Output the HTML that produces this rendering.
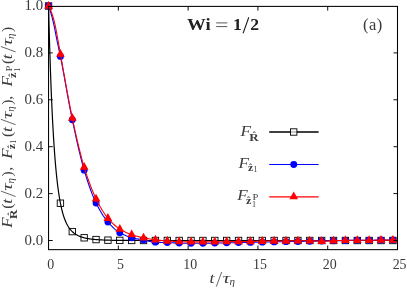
<!DOCTYPE html>
<html><head><meta charset="utf-8"><style>
html,body{margin:0;padding:0;background:#fff;}
svg{display:block;font-family:"Liberation Serif",serif;will-change:transform;}
</style></head><body>
<svg width="407" height="289" viewBox="0 0 407 289">
<rect width="407" height="289" fill="#fff"/>
<defs><clipPath id="c"><rect x="44" y="0" width="358" height="254"/></clipPath></defs>
<g clip-path="url(#c)">
<path d="M48.55,6.00 L48.84,17.42 L49.13,28.23 L49.42,38.47 L49.71,48.18 L50.01,57.37 L50.30,66.09 L50.59,74.35 L50.88,82.18 L51.17,89.61 L51.46,96.66 L51.75,103.34 L52.04,109.68 L52.33,115.70 L52.62,121.41 L52.92,126.83 L53.21,131.97 L53.50,136.86 L53.79,141.50 L54.08,145.91 L54.37,150.10 L54.66,154.09 L54.95,157.87 L55.24,161.47 L55.53,164.90 L55.83,168.15 L56.12,171.25 L56.41,174.20 L56.70,177.01 L56.99,179.68 L57.28,182.23 L57.57,184.65 L57.86,186.96 L58.15,189.17 L58.45,191.27 L58.74,193.27 L59.03,195.18 L59.32,197.00 L59.61,198.74 L59.90,200.40 L60.19,201.99 L60.48,203.50 L60.77,204.95 L61.06,206.33 L61.36,207.65 L61.65,208.91 L61.94,210.11 L62.23,211.26 L62.52,212.35 L62.81,213.40 L63.10,214.41 L63.39,215.37 L63.68,216.29 L63.97,217.16 L64.27,218.01 L64.56,218.81 L64.85,219.58 L65.14,220.32 L65.43,221.03 L65.72,221.71 L66.01,222.36 L66.30,222.99 L66.59,223.59 L66.89,224.16 L67.18,224.71 L67.47,225.25 L67.76,225.75 L68.05,226.24 L68.34,226.71 L68.63,227.17 L68.92,227.60 L69.21,228.02 L69.50,228.42 L69.80,228.81 L70.09,229.18 L70.38,229.54 L70.67,229.89 L70.96,230.22 L71.25,230.54 L71.54,230.85 L71.83,231.15 L72.12,231.43 L72.41,231.71 L72.71,231.98 L73.00,232.24 L73.29,232.49 L73.58,232.73 L73.87,232.97 L74.16,233.19 L74.45,233.41 L74.74,233.62 L75.03,233.83 L75.33,234.03 L75.62,234.22 L75.91,234.41 L76.20,234.58 L76.49,234.76 L76.78,234.93 L77.07,235.09 L77.36,235.25 L77.65,235.40 L77.94,235.55 L78.24,235.69 L78.53,235.83 L78.82,235.96 L79.11,236.09 L79.40,236.22 L79.69,236.34 L79.98,236.46 L80.27,236.57 L80.56,236.68 L80.85,236.79 L81.15,236.89 L81.44,236.99 L81.73,237.09 L82.02,237.18 L82.31,237.27 L82.60,237.36 L82.89,237.45 L83.18,237.53 L83.47,237.61 L83.77,237.69 L84.06,237.76 L84.35,237.83 L84.64,237.90 L84.93,237.97 L85.22,238.04 L85.51,238.10 L85.80,238.17 L86.09,238.23 L86.38,238.29 L86.68,238.34 L86.97,238.40 L87.26,238.46 L87.55,238.51 L87.84,238.56 L88.13,238.61 L88.42,238.66 L88.71,238.71 L89.00,238.75 L89.29,238.80 L89.59,238.84 L89.88,238.89 L90.17,238.93 L90.46,238.97 L90.75,239.01 L91.04,239.05 L91.33,239.08 L91.62,239.12 L91.91,239.16 L92.21,239.19 L92.50,239.22 L92.79,239.26 L93.08,239.29 L93.37,239.32 L93.66,239.35 L93.95,239.38 L94.24,239.41 L94.53,239.44 L94.82,239.46 L95.12,239.49 L95.41,239.52 L95.70,239.54 L95.99,239.56 L96.28,239.59 L96.57,239.61 L96.86,239.63 L97.15,239.66 L97.44,239.68 L97.73,239.70 L98.03,239.72 L98.32,239.74 L98.61,239.76 L98.90,239.78 L99.19,239.80 L99.48,239.81 L99.77,239.83 L100.06,239.85 L100.35,239.86 L100.65,239.88 L100.94,239.90 L101.23,239.91 L101.52,239.93 L101.81,239.94 L102.10,239.96 L102.39,239.97 L102.68,239.98 L102.97,240.00 L103.26,240.01 L103.56,240.02 L103.85,240.03 L104.14,240.04 L104.43,240.06 L104.72,240.07 L105.01,240.08 L105.30,240.09 L105.59,240.10 L105.88,240.11 L106.17,240.12 L106.47,240.13 L106.76,240.14 L107.05,240.15 L107.34,240.16 L107.63,240.17 L107.92,240.17 L108.21,240.18 L108.50,240.19 L108.79,240.20 L109.09,240.21 L109.38,240.21 L109.67,240.22 L109.96,240.23 L110.25,240.23 L110.54,240.24 L110.83,240.25 L111.12,240.25 L111.41,240.26 L111.70,240.27 L112.00,240.27 L112.29,240.28 L112.58,240.28 L112.87,240.29 L113.16,240.29 L113.45,240.30 L113.74,240.30 L114.03,240.31 L114.32,240.31 L114.61,240.32 L114.91,240.32 L115.20,240.33 L115.49,240.33 L115.78,240.34 L116.07,240.34 L116.36,240.34 L116.65,240.35 L116.94,240.35 L117.23,240.36 L117.53,240.36 L117.82,240.36 L118.11,240.37 L118.40,240.37 L118.69,240.37 L118.98,240.38 L119.27,240.38 L119.56,240.38 L119.85,240.39 L120.14,240.39 L120.44,240.39 L120.73,240.39 L121.02,240.40 L121.31,240.40 L121.60,240.40 L121.89,240.40 L122.18,240.41 L122.47,240.41 L122.76,240.41 L123.05,240.41 L123.35,240.42 L123.64,240.42 L123.93,240.42 L124.22,240.42 L124.51,240.42 L124.80,240.43 L125.09,240.43 L125.38,240.43 L125.67,240.43 L125.97,240.43 L126.26,240.43 L126.55,240.44 L126.84,240.44 L127.13,240.44 L127.42,240.44 L127.71,240.44 L128.00,240.44 L128.29,240.45 L128.58,240.45 L128.88,240.45 L129.17,240.45 L129.46,240.45 L129.75,240.45 L130.04,240.45 L130.33,240.45 L130.62,240.46 L130.91,240.46 L131.20,240.46 L131.49,240.46 L131.79,240.46 L132.08,240.46 L132.37,240.46 L132.66,240.46 L132.95,240.46 L133.24,240.46 L133.53,240.47 L133.82,240.47 L134.11,240.47 L134.41,240.47 L134.70,240.47 L134.99,240.47 L135.28,240.47 L135.57,240.47 L135.86,240.47 L136.15,240.47 L136.44,240.47 L136.73,240.47 L137.02,240.47 L137.32,240.48 L137.61,240.48 L137.90,240.48 L138.19,240.48 L138.48,240.48 L138.77,240.48 L139.06,240.48 L139.35,240.48 L139.64,240.48 L139.93,240.48 L140.23,240.48 L140.52,240.48 L140.81,240.48 L141.10,240.48 L141.39,240.48 L141.68,240.48 L141.97,240.48 L142.26,240.48 L142.55,240.48 L142.85,240.48 L143.14,240.49 L143.43,240.49 L143.72,240.49 L144.01,240.49 L144.30,240.49 L144.59,240.49 L144.88,240.49 L145.17,240.49 L145.46,240.49 L145.76,240.49 L146.05,240.49 L146.34,240.49 L146.63,240.49 L146.92,240.49 L147.21,240.49 L147.50,240.49 L147.79,240.49 L148.08,240.49 L148.37,240.49 L148.67,240.49 L148.96,240.49 L149.25,240.49 L149.54,240.49 L149.83,240.49 L150.12,240.49 L150.41,240.49 L150.70,240.49 L150.99,240.49 L151.29,240.49 L151.58,240.49 L151.87,240.49 L152.16,240.49 L152.45,240.49 L152.74,240.49 L153.03,240.49 L153.32,240.49 L153.61,240.49 L153.90,240.49 L154.20,240.49 L154.49,240.49 L154.78,240.49 L155.07,240.49 L155.36,240.49 L155.65,240.50 L155.94,240.50 L156.23,240.50 L156.52,240.50 L156.81,240.50 L157.11,240.50 L157.40,240.50 L157.69,240.50 L157.98,240.50 L158.27,240.50 L158.56,240.50 L158.85,240.50 L159.14,240.50 L159.43,240.50 L159.73,240.50 L160.02,240.50 L160.31,240.50 L160.60,240.50 L160.89,240.50 L161.18,240.50 L161.47,240.50 L161.76,240.50 L162.05,240.50 L162.34,240.50 L162.64,240.50 L162.93,240.50 L163.22,240.50 L163.51,240.50 L163.80,240.50 L164.09,240.50 L164.38,240.50 L164.67,240.50 L164.96,240.50 L165.25,240.50 L165.55,240.50 L165.84,240.50 L166.13,240.50 L166.42,240.50 L166.71,240.50 L167.00,240.50 L167.29,240.50 L167.58,240.50 L167.87,240.50 L168.17,240.50 L168.46,240.50 L168.75,240.50 L169.04,240.50 L169.33,240.50 L169.62,240.50 L169.91,240.50 L170.20,240.50 L170.49,240.50 L170.78,240.50 L171.08,240.50 L171.37,240.50 L171.66,240.50 L171.95,240.50 L172.24,240.50 L172.53,240.50 L172.82,240.50 L173.11,240.50 L173.40,240.50 L173.69,240.50 L173.99,240.50 L174.28,240.50 L174.57,240.50 L174.86,240.50 L175.15,240.50 L175.44,240.50 L175.73,240.50 L176.02,240.50 L176.31,240.50 L176.61,240.50 L176.90,240.50 L177.19,240.50 L177.48,240.50 L177.77,240.50 L178.06,240.50 L178.35,240.50 L178.64,240.50 L178.93,240.50 L179.22,240.50 L179.52,240.50 L179.81,240.50 L180.10,240.50 L180.39,240.50 L180.68,240.50 L180.97,240.50 L181.26,240.50 L181.55,240.50 L181.84,240.50 L182.13,240.50 L182.43,240.50 L182.72,240.50 L183.01,240.50 L183.30,240.50 L183.59,240.50 L183.88,240.50 L184.17,240.50 L184.46,240.50 L184.75,240.50 L185.05,240.50 L185.34,240.50 L185.63,240.50 L185.92,240.50 L186.21,240.50 L186.50,240.50 L186.79,240.50 L187.08,240.50 L187.37,240.50 L187.66,240.50 L187.96,240.50 L188.25,240.50 L188.54,240.50 L188.83,240.50 L189.12,240.50 L189.41,240.50 L189.70,240.50 L189.99,240.50 L190.28,240.50 L190.57,240.50 L190.87,240.50 L191.16,240.50 L191.45,240.50 L191.74,240.50 L192.03,240.50 L192.32,240.50 L192.61,240.50 L192.90,240.50 L193.19,240.50 L193.49,240.50 L193.78,240.50 L194.07,240.50 L194.36,240.50 L194.65,240.50 L194.94,240.50 L195.23,240.50 L195.52,240.50 L195.81,240.50 L196.10,240.50 L196.40,240.50 L196.69,240.50 L196.98,240.50 L197.27,240.50 L197.56,240.50 L197.85,240.50 L198.14,240.50 L198.43,240.50 L198.72,240.50 L199.01,240.50 L199.31,240.50 L199.60,240.50 L199.89,240.50 L200.18,240.50 L200.47,240.50 L200.76,240.50 L201.05,240.50 L201.34,240.50 L201.63,240.50 L201.93,240.50 L202.22,240.50 L202.51,240.50 L202.80,240.50 L203.09,240.50 L203.38,240.50 L203.67,240.50 L203.96,240.50 L204.25,240.50 L204.54,240.50 L204.84,240.50 L205.13,240.50 L205.42,240.50 L205.71,240.50 L206.00,240.50 L206.29,240.50 L206.58,240.50 L206.87,240.50 L207.16,240.50 L207.45,240.50 L207.75,240.50 L208.04,240.50 L208.33,240.50 L208.62,240.50 L208.91,240.50 L209.20,240.50 L209.49,240.50 L209.78,240.50 L210.07,240.50 L210.37,240.50 L210.66,240.50 L210.95,240.50 L211.24,240.50 L211.53,240.50 L211.82,240.50 L212.11,240.50 L212.40,240.50 L212.69,240.50 L212.98,240.50 L213.28,240.50 L213.57,240.50 L213.86,240.50 L214.15,240.50 L214.44,240.50 L214.73,240.50 L215.02,240.50 L215.31,240.50 L215.60,240.50 L215.89,240.50 L216.19,240.50 L216.48,240.50 L216.77,240.50 L217.06,240.50 L217.35,240.50 L217.64,240.50 L217.93,240.50 L218.22,240.50 L218.51,240.50 L218.81,240.50 L219.10,240.50 L219.39,240.50 L219.68,240.50 L219.97,240.50 L220.26,240.50 L220.55,240.50 L220.84,240.50 L221.13,240.50 L221.42,240.50 L221.72,240.50 L222.01,240.50 L222.30,240.50 L222.59,240.50 L222.88,240.50 L223.17,240.50 L223.46,240.50 L223.75,240.50 L224.04,240.50 L224.33,240.50 L224.63,240.50 L224.92,240.50 L225.21,240.50 L225.50,240.50 L225.79,240.50 L226.08,240.50 L226.37,240.50 L226.66,240.50 L226.95,240.50 L227.24,240.50 L227.54,240.50 L227.83,240.50 L228.12,240.50 L228.41,240.50 L228.70,240.50 L228.99,240.50 L229.28,240.50 L229.57,240.50 L229.86,240.50 L230.16,240.50 L230.45,240.50 L230.74,240.50 L231.03,240.50 L231.32,240.50 L231.61,240.50 L231.90,240.50 L232.19,240.50 L232.48,240.50 L232.77,240.50 L233.07,240.50 L233.36,240.50 L233.65,240.50 L233.94,240.50 L234.23,240.50 L234.52,240.50 L234.81,240.50 L235.10,240.50 L235.39,240.50 L235.68,240.50 L235.98,240.50 L236.27,240.50 L236.56,240.50 L236.85,240.50 L237.14,240.50 L237.43,240.50 L237.72,240.50 L238.01,240.50 L238.30,240.50 L238.60,240.50 L238.89,240.50 L239.18,240.50 L239.47,240.50 L239.76,240.50 L240.05,240.50 L240.34,240.50 L240.63,240.50 L240.92,240.50 L241.21,240.50 L241.51,240.50 L241.80,240.50 L242.09,240.50 L242.38,240.50 L242.67,240.50 L242.96,240.50 L243.25,240.50 L243.54,240.50 L243.83,240.50 L244.12,240.50 L244.42,240.50 L244.71,240.50 L245.00,240.50 L245.29,240.50 L245.58,240.50 L245.87,240.50 L246.16,240.50 L246.45,240.50 L246.74,240.50 L247.04,240.50 L247.33,240.50 L247.62,240.50 L247.91,240.50 L248.20,240.50 L248.49,240.50 L248.78,240.50 L249.07,240.50 L249.36,240.50 L249.65,240.50 L249.95,240.50 L250.24,240.50 L250.53,240.50 L250.82,240.50 L251.11,240.50 L251.40,240.50 L251.69,240.50 L251.98,240.50 L252.27,240.50 L252.56,240.50 L252.86,240.50 L253.15,240.50 L253.44,240.50 L253.73,240.50 L254.02,240.50 L254.31,240.50 L254.60,240.50 L254.89,240.50 L255.18,240.50 L255.48,240.50 L255.77,240.50 L256.06,240.50 L256.35,240.50 L256.64,240.50 L256.93,240.50 L257.22,240.50 L257.51,240.50 L257.80,240.50 L258.09,240.50 L258.39,240.50 L258.68,240.50 L258.97,240.50 L259.26,240.50 L259.55,240.50 L259.84,240.50 L260.13,240.50 L260.42,240.50 L260.71,240.50 L261.00,240.50 L261.30,240.50 L261.59,240.50 L261.88,240.50 L262.17,240.50 L262.46,240.50 L262.75,240.50 L263.04,240.50 L263.33,240.50 L263.62,240.50 L263.92,240.50 L264.21,240.50 L264.50,240.50 L264.79,240.50 L265.08,240.50 L265.37,240.50 L265.66,240.50 L265.95,240.50 L266.24,240.50 L266.53,240.50 L266.83,240.50 L267.12,240.50 L267.41,240.50 L267.70,240.50 L267.99,240.50 L268.28,240.50 L268.57,240.50 L268.86,240.50 L269.15,240.50 L269.44,240.50 L269.74,240.50 L270.03,240.50 L270.32,240.50 L270.61,240.50 L270.90,240.50 L271.19,240.50 L271.48,240.50 L271.77,240.50 L272.06,240.50 L272.36,240.50 L272.65,240.50 L272.94,240.50 L273.23,240.50 L273.52,240.50 L273.81,240.50 L274.10,240.50 L274.39,240.50 L274.68,240.50 L274.97,240.50 L275.27,240.50 L275.56,240.50 L275.85,240.50 L276.14,240.50 L276.43,240.50 L276.72,240.50 L277.01,240.50 L277.30,240.50 L277.59,240.50 L277.88,240.50 L278.18,240.50 L278.47,240.50 L278.76,240.50 L279.05,240.50 L279.34,240.50 L279.63,240.50 L279.92,240.50 L280.21,240.50 L280.50,240.50 L280.80,240.50 L281.09,240.50 L281.38,240.50 L281.67,240.50 L281.96,240.50 L282.25,240.50 L282.54,240.50 L282.83,240.50 L283.12,240.50 L283.41,240.50 L283.71,240.50 L284.00,240.50 L284.29,240.50 L284.58,240.50 L284.87,240.50 L285.16,240.50 L285.45,240.50 L285.74,240.50 L286.03,240.50 L286.32,240.50 L286.62,240.50 L286.91,240.50 L287.20,240.50 L287.49,240.50 L287.78,240.50 L288.07,240.50 L288.36,240.50 L288.65,240.50 L288.94,240.50 L289.24,240.50 L289.53,240.50 L289.82,240.50 L290.11,240.50 L290.40,240.50 L290.69,240.50 L290.98,240.50 L291.27,240.50 L291.56,240.50 L291.85,240.50 L292.15,240.50 L292.44,240.50 L292.73,240.50 L293.02,240.50 L293.31,240.50 L293.60,240.50 L293.89,240.50 L294.18,240.50 L294.47,240.50 L294.76,240.50 L295.06,240.50 L295.35,240.50 L295.64,240.50 L295.93,240.50 L296.22,240.50 L296.51,240.50 L296.80,240.50 L297.09,240.50 L297.38,240.50 L297.68,240.50 L297.97,240.50 L298.26,240.50 L298.55,240.50 L298.84,240.50 L299.13,240.50 L299.42,240.50 L299.71,240.50 L300.00,240.50 L300.29,240.50 L300.59,240.50 L300.88,240.50 L301.17,240.50 L301.46,240.50 L301.75,240.50 L302.04,240.50 L302.33,240.50 L302.62,240.50 L302.91,240.50 L303.20,240.50 L303.50,240.50 L303.79,240.50 L304.08,240.50 L304.37,240.50 L304.66,240.50 L304.95,240.50 L305.24,240.50 L305.53,240.50 L305.82,240.50 L306.12,240.50 L306.41,240.50 L306.70,240.50 L306.99,240.50 L307.28,240.50 L307.57,240.50 L307.86,240.50 L308.15,240.50 L308.44,240.50 L308.73,240.50 L309.03,240.50 L309.32,240.50 L309.61,240.50 L309.90,240.50 L310.19,240.50 L310.48,240.50 L310.77,240.50 L311.06,240.50 L311.35,240.50 L311.64,240.50 L311.94,240.50 L312.23,240.50 L312.52,240.50 L312.81,240.50 L313.10,240.50 L313.39,240.50 L313.68,240.50 L313.97,240.50 L314.26,240.50 L314.56,240.50 L314.85,240.50 L315.14,240.50 L315.43,240.50 L315.72,240.50 L316.01,240.50 L316.30,240.50 L316.59,240.50 L316.88,240.50 L317.17,240.50 L317.47,240.50 L317.76,240.50 L318.05,240.50 L318.34,240.50 L318.63,240.50 L318.92,240.50 L319.21,240.50 L319.50,240.50 L319.79,240.50 L320.08,240.50 L320.38,240.50 L320.67,240.50 L320.96,240.50 L321.25,240.50 L321.54,240.50 L321.83,240.50 L322.12,240.50 L322.41,240.50 L322.70,240.50 L323.00,240.50 L323.29,240.50 L323.58,240.50 L323.87,240.50 L324.16,240.50 L324.45,240.50 L324.74,240.50 L325.03,240.50 L325.32,240.50 L325.61,240.50 L325.91,240.50 L326.20,240.50 L326.49,240.50 L326.78,240.50 L327.07,240.50 L327.36,240.50 L327.65,240.50 L327.94,240.50 L328.23,240.50 L328.52,240.50 L328.82,240.50 L329.11,240.50 L329.40,240.50 L329.69,240.50 L329.98,240.50 L330.27,240.50 L330.56,240.50 L330.85,240.50 L331.14,240.50 L331.44,240.50 L331.73,240.50 L332.02,240.50 L332.31,240.50 L332.60,240.50 L332.89,240.50 L333.18,240.50 L333.47,240.50 L333.76,240.50 L334.05,240.50 L334.35,240.50 L334.64,240.50 L334.93,240.50 L335.22,240.50 L335.51,240.50 L335.80,240.50 L336.09,240.50 L336.38,240.50 L336.67,240.50 L336.96,240.50 L337.26,240.50 L337.55,240.50 L337.84,240.50 L338.13,240.50 L338.42,240.50 L338.71,240.50 L339.00,240.50 L339.29,240.50 L339.58,240.50 L339.88,240.50 L340.17,240.50 L340.46,240.50 L340.75,240.50 L341.04,240.50 L341.33,240.50 L341.62,240.50 L341.91,240.50 L342.20,240.50 L342.49,240.50 L342.79,240.50 L343.08,240.50 L343.37,240.50 L343.66,240.50 L343.95,240.50 L344.24,240.50 L344.53,240.50 L344.82,240.50 L345.11,240.50 L345.40,240.50 L345.70,240.50 L345.99,240.50 L346.28,240.50 L346.57,240.50 L346.86,240.50 L347.15,240.50 L347.44,240.50 L347.73,240.50 L348.02,240.50 L348.32,240.50 L348.61,240.50 L348.90,240.50 L349.19,240.50 L349.48,240.50 L349.77,240.50 L350.06,240.50 L350.35,240.50 L350.64,240.50 L350.93,240.50 L351.23,240.50 L351.52,240.50 L351.81,240.50 L352.10,240.50 L352.39,240.50 L352.68,240.50 L352.97,240.50 L353.26,240.50 L353.55,240.50 L353.84,240.50 L354.14,240.50 L354.43,240.50 L354.72,240.50 L355.01,240.50 L355.30,240.50 L355.59,240.50 L355.88,240.50 L356.17,240.50 L356.46,240.50 L356.76,240.50 L357.05,240.50 L357.34,240.50 L357.63,240.50 L357.92,240.50 L358.21,240.50 L358.50,240.50 L358.79,240.50 L359.08,240.50 L359.37,240.50 L359.67,240.50 L359.96,240.50 L360.25,240.50 L360.54,240.50 L360.83,240.50 L361.12,240.50 L361.41,240.50 L361.70,240.50 L361.99,240.50 L362.28,240.50 L362.58,240.50 L362.87,240.50 L363.16,240.50 L363.45,240.50 L363.74,240.50 L364.03,240.50 L364.32,240.50 L364.61,240.50 L364.90,240.50 L365.20,240.50 L365.49,240.50 L365.78,240.50 L366.07,240.50 L366.36,240.50 L366.65,240.50 L366.94,240.50 L367.23,240.50 L367.52,240.50 L367.81,240.50 L368.11,240.50 L368.40,240.50 L368.69,240.50 L368.98,240.50 L369.27,240.50 L369.56,240.50 L369.85,240.50 L370.14,240.50 L370.43,240.50 L370.72,240.50 L371.02,240.50 L371.31,240.50 L371.60,240.50 L371.89,240.50 L372.18,240.50 L372.47,240.50 L372.76,240.50 L373.05,240.50 L373.34,240.50 L373.64,240.50 L373.93,240.50 L374.22,240.50 L374.51,240.50 L374.80,240.50 L375.09,240.50 L375.38,240.50 L375.67,240.50 L375.96,240.50 L376.25,240.50 L376.55,240.50 L376.84,240.50 L377.13,240.50 L377.42,240.50 L377.71,240.50 L378.00,240.50 L378.29,240.50 L378.58,240.50 L378.87,240.50 L379.16,240.50 L379.46,240.50 L379.75,240.50 L380.04,240.50 L380.33,240.50 L380.62,240.50 L380.91,240.50 L381.20,240.50 L381.49,240.50 L381.78,240.50 L382.08,240.50 L382.37,240.50 L382.66,240.50 L382.95,240.50 L383.24,240.50 L383.53,240.50 L383.82,240.50 L384.11,240.50 L384.40,240.50 L384.69,240.50 L384.99,240.50 L385.28,240.50 L385.57,240.50 L385.86,240.50 L386.15,240.50 L386.44,240.50 L386.73,240.50 L387.02,240.50 L387.31,240.50 L387.60,240.50 L387.90,240.50 L388.19,240.50 L388.48,240.50 L388.77,240.50 L389.06,240.50 L389.35,240.50 L389.64,240.50 L389.93,240.50 L390.22,240.50 L390.52,240.50 L390.81,240.50 L391.10,240.50 L391.39,240.50 L391.68,240.50 L391.97,240.50 L392.26,240.50 L392.55,240.50 L392.84,240.50 L393.13,240.50 L393.43,240.50 L393.72,240.50 L394.01,240.50 L394.30,240.50 L394.59,240.50 L394.88,240.50 L395.17,240.50 L395.46,240.50 L395.75,240.50 L396.04,240.50 L396.34,240.50 L396.63,240.50 L396.92,240.50 L397.21,240.50 L397.50,240.50" fill="none" stroke="#000" stroke-width="1.2"/>
<rect x="45.35" y="2.80" width="6.4" height="6.4" fill="none" stroke="#000" stroke-width="0.9"/>
<rect x="57.22" y="200.01" width="6.4" height="6.4" fill="none" stroke="#000" stroke-width="0.9"/>
<rect x="69.10" y="228.40" width="6.4" height="6.4" fill="none" stroke="#000" stroke-width="0.9"/>
<rect x="80.97" y="234.59" width="6.4" height="6.4" fill="none" stroke="#000" stroke-width="0.9"/>
<rect x="92.85" y="236.37" width="6.4" height="6.4" fill="none" stroke="#000" stroke-width="0.9"/>
<rect x="104.72" y="236.97" width="6.4" height="6.4" fill="none" stroke="#000" stroke-width="0.9"/>
<rect x="116.59" y="237.18" width="6.4" height="6.4" fill="none" stroke="#000" stroke-width="0.9"/>
<rect x="128.47" y="237.26" width="6.4" height="6.4" fill="none" stroke="#000" stroke-width="0.9"/>
<rect x="140.34" y="237.29" width="6.4" height="6.4" fill="none" stroke="#000" stroke-width="0.9"/>
<rect x="152.22" y="237.29" width="6.4" height="6.4" fill="none" stroke="#000" stroke-width="0.9"/>
<rect x="164.09" y="237.30" width="6.4" height="6.4" fill="none" stroke="#000" stroke-width="0.9"/>
<rect x="175.96" y="237.30" width="6.4" height="6.4" fill="none" stroke="#000" stroke-width="0.9"/>
<rect x="187.84" y="237.30" width="6.4" height="6.4" fill="none" stroke="#000" stroke-width="0.9"/>
<rect x="199.71" y="237.30" width="6.4" height="6.4" fill="none" stroke="#000" stroke-width="0.9"/>
<rect x="211.59" y="237.30" width="6.4" height="6.4" fill="none" stroke="#000" stroke-width="0.9"/>
<rect x="223.46" y="237.30" width="6.4" height="6.4" fill="none" stroke="#000" stroke-width="0.9"/>
<rect x="235.34" y="237.30" width="6.4" height="6.4" fill="none" stroke="#000" stroke-width="0.9"/>
<rect x="247.21" y="237.30" width="6.4" height="6.4" fill="none" stroke="#000" stroke-width="0.9"/>
<rect x="259.08" y="237.30" width="6.4" height="6.4" fill="none" stroke="#000" stroke-width="0.9"/>
<rect x="270.96" y="237.30" width="6.4" height="6.4" fill="none" stroke="#000" stroke-width="0.9"/>
<rect x="282.83" y="237.30" width="6.4" height="6.4" fill="none" stroke="#000" stroke-width="0.9"/>
<rect x="294.71" y="237.30" width="6.4" height="6.4" fill="none" stroke="#000" stroke-width="0.9"/>
<rect x="306.58" y="237.30" width="6.4" height="6.4" fill="none" stroke="#000" stroke-width="0.9"/>
<rect x="318.45" y="237.30" width="6.4" height="6.4" fill="none" stroke="#000" stroke-width="0.9"/>
<rect x="330.33" y="237.30" width="6.4" height="6.4" fill="none" stroke="#000" stroke-width="0.9"/>
<rect x="342.20" y="237.30" width="6.4" height="6.4" fill="none" stroke="#000" stroke-width="0.9"/>
<rect x="354.08" y="237.30" width="6.4" height="6.4" fill="none" stroke="#000" stroke-width="0.9"/>
<rect x="365.95" y="237.30" width="6.4" height="6.4" fill="none" stroke="#000" stroke-width="0.9"/>
<rect x="377.82" y="237.30" width="6.4" height="6.4" fill="none" stroke="#000" stroke-width="0.9"/>
<rect x="389.70" y="237.30" width="6.4" height="6.4" fill="none" stroke="#000" stroke-width="0.9"/>
<path d="M48.55,6.00 L49.72,9.24 L50.88,12.99 L52.05,17.17 L53.22,21.76 L54.39,27.19 L55.55,33.16 L56.72,39.16 L57.89,44.72 L59.05,50.01 L60.22,55.43 L61.39,61.23 L62.55,67.32 L63.72,73.63 L64.89,80.07 L66.06,86.60 L67.22,93.12 L68.39,99.57 L69.56,105.88 L70.72,111.97 L71.89,117.79 L73.06,123.32 L74.23,128.80 L75.39,134.22 L76.56,139.55 L77.73,144.76 L78.89,149.82 L80.06,154.72 L81.23,159.41 L82.39,163.86 L83.56,168.06 L84.73,172.00 L85.90,175.81 L87.06,179.50 L88.23,183.07 L89.40,186.50 L90.56,189.79 L91.73,192.92 L92.90,195.89 L94.07,198.68 L95.23,201.28 L96.40,203.69 L97.57,205.98 L98.73,208.17 L99.90,210.27 L101.07,212.27 L102.23,214.17 L103.40,215.97 L104.57,217.66 L105.74,219.26 L106.90,220.76 L108.07,222.15 L109.24,223.48 L110.40,224.76 L111.57,225.99 L112.74,227.17 L113.91,228.29 L115.07,229.34 L116.24,230.31 L117.41,231.20 L118.57,232.01 L119.74,232.73 L120.91,233.38 L122.07,233.99 L123.24,234.56 L124.41,235.10 L125.58,235.61 L126.74,236.08 L127.91,236.51 L129.08,236.91 L130.24,237.28 L131.41,237.62 L132.58,237.92 L133.75,238.20 L134.91,238.45 L136.08,238.69 L137.25,238.91 L138.41,239.12 L139.58,239.33 L140.75,239.53 L141.91,239.74 L143.08,239.95 L144.25,240.17 L145.42,240.40 L146.58,240.65 L147.75,240.90 L148.92,241.15 L150.08,241.39 L151.25,241.61 L152.42,241.80 L153.59,241.97 L154.75,242.09 L155.92,242.17 L157.09,242.24 L158.25,242.29 L159.42,242.34 L160.59,242.39 L161.75,242.43 L162.92,242.46 L164.09,242.50 L165.26,242.54 L166.42,242.58 L167.59,242.62 L168.76,242.67 L169.92,242.72 L171.09,242.77 L172.26,242.82 L173.43,242.87 L174.59,242.92 L175.76,242.97 L176.93,243.01 L178.09,243.05 L179.26,243.08 L180.43,243.11 L181.59,243.15 L182.76,243.18 L183.93,243.21 L185.10,243.24 L186.26,243.26 L187.43,243.28 L188.60,243.30 L189.76,243.31 L190.93,243.31 L192.10,243.31 L193.27,243.31 L194.43,243.31 L195.60,243.31 L196.77,243.31 L197.93,243.31 L199.10,243.31 L200.27,243.31 L201.43,243.31 L202.60,243.31 L203.77,243.31 L204.94,243.30 L206.10,243.28 L207.27,243.26 L208.44,243.24 L209.60,243.21 L210.77,243.18 L211.94,243.15 L213.11,243.12 L214.27,243.09 L215.44,243.07 L216.61,243.04 L217.77,243.02 L218.94,243.00 L220.11,242.97 L221.27,242.95 L222.44,242.93 L223.61,242.91 L224.78,242.88 L225.94,242.86 L227.11,242.84 L228.28,242.81 L229.44,242.79 L230.61,242.77 L231.78,242.74 L232.94,242.72 L234.11,242.70 L235.28,242.67 L236.45,242.65 L237.61,242.63 L238.78,242.61 L239.95,242.58 L241.11,242.56 L242.28,242.54 L243.45,242.51 L244.62,242.49 L245.78,242.47 L246.95,242.44 L248.12,242.42 L249.28,242.40 L250.45,242.38 L251.62,242.35 L252.78,242.33 L253.95,242.31 L255.12,242.28 L256.29,242.26 L257.45,242.24 L258.62,242.21 L259.79,242.19 L260.95,242.17 L262.12,242.14 L263.29,242.12 L264.46,242.10 L265.62,242.08 L266.79,242.05 L267.96,242.03 L269.12,242.01 L270.29,241.98 L271.46,241.96 L272.62,241.94 L273.79,241.91 L274.96,241.89 L276.13,241.87 L277.29,241.85 L278.46,241.82 L279.63,241.80 L280.79,241.78 L281.96,241.75 L283.13,241.73 L284.30,241.71 L285.46,241.68 L286.63,241.66 L287.80,241.64 L288.96,241.61 L290.13,241.59 L291.30,241.57 L292.46,241.55 L293.63,241.52 L294.80,241.50 L295.97,241.48 L297.13,241.45 L298.30,241.43 L299.47,241.41 L300.63,241.38 L301.80,241.36 L302.97,241.34 L304.14,241.31 L305.30,241.29 L306.47,241.27 L307.64,241.25 L308.80,241.22 L309.97,241.20 L311.14,241.18 L312.30,241.15 L313.47,241.13 L314.64,241.11 L315.81,241.08 L316.97,241.06 L318.14,241.04 L319.31,241.02 L320.47,240.99 L321.64,240.97 L322.81,240.95 L323.98,240.92 L325.14,240.90 L326.31,240.88 L327.48,240.85 L328.64,240.83 L329.81,240.81 L330.98,240.78 L332.14,240.76 L333.31,240.74 L334.48,240.72 L335.65,240.69 L336.81,240.67 L337.98,240.65 L339.15,240.62 L340.31,240.60 L341.48,240.58 L342.65,240.55 L343.82,240.53 L344.98,240.51 L346.15,240.48 L347.32,240.46 L348.48,240.43 L349.65,240.40 L350.82,240.37 L351.98,240.34 L353.15,240.31 L354.32,240.29 L355.49,240.28 L356.65,240.27 L357.82,240.27 L358.99,240.27 L360.15,240.27 L361.32,240.27 L362.49,240.27 L363.66,240.27 L364.82,240.27 L365.99,240.27 L367.16,240.27 L368.32,240.27 L369.49,240.26 L370.66,240.26 L371.82,240.24 L372.99,240.21 L374.16,240.18 L375.33,240.14 L376.49,240.11 L377.66,240.08 L378.83,240.05 L379.99,240.04 L381.16,240.03 L382.33,240.03 L383.50,240.03 L384.66,240.03 L385.83,240.03 L387.00,240.03 L388.16,240.03 L389.33,240.03 L390.50,240.03 L391.66,240.03 L392.83,240.03 L394.00,240.03 L395.17,240.03 L396.33,240.03 L397.50,240.03" fill="none" stroke="#00f" stroke-width="1.1"/>
<circle cx="48.55" cy="6.00" r="3.45" fill="#00f"/>
<circle cx="60.42" cy="56.42" r="3.45" fill="#00f"/>
<circle cx="72.30" cy="119.73" r="3.45" fill="#00f"/>
<circle cx="84.17" cy="170.15" r="3.45" fill="#00f"/>
<circle cx="96.05" cy="202.98" r="3.45" fill="#00f"/>
<circle cx="107.92" cy="221.97" r="3.45" fill="#00f"/>
<circle cx="119.79" cy="232.76" r="3.45" fill="#00f"/>
<circle cx="131.67" cy="237.69" r="3.45" fill="#00f"/>
<circle cx="143.54" cy="240.03" r="3.45" fill="#00f"/>
<circle cx="155.42" cy="242.14" r="3.45" fill="#00f"/>
<circle cx="167.29" cy="242.61" r="3.45" fill="#00f"/>
<circle cx="179.16" cy="243.08" r="3.45" fill="#00f"/>
<circle cx="191.04" cy="243.31" r="3.45" fill="#00f"/>
<circle cx="202.91" cy="243.31" r="3.45" fill="#00f"/>
<circle cx="214.79" cy="243.08" r="3.45" fill="#00f"/>
<circle cx="226.66" cy="242.84" r="3.45" fill="#00f"/>
<circle cx="238.54" cy="242.61" r="3.45" fill="#00f"/>
<circle cx="250.41" cy="242.38" r="3.45" fill="#00f"/>
<circle cx="262.28" cy="242.14" r="3.45" fill="#00f"/>
<circle cx="274.16" cy="241.91" r="3.45" fill="#00f"/>
<circle cx="286.03" cy="241.67" r="3.45" fill="#00f"/>
<circle cx="297.91" cy="241.44" r="3.45" fill="#00f"/>
<circle cx="309.78" cy="241.20" r="3.45" fill="#00f"/>
<circle cx="321.65" cy="240.97" r="3.45" fill="#00f"/>
<circle cx="333.53" cy="240.73" r="3.45" fill="#00f"/>
<circle cx="345.40" cy="240.50" r="3.45" fill="#00f"/>
<circle cx="357.28" cy="240.27" r="3.45" fill="#00f"/>
<circle cx="369.15" cy="240.27" r="3.45" fill="#00f"/>
<circle cx="381.02" cy="240.03" r="3.45" fill="#00f"/>
<circle cx="392.90" cy="240.03" r="3.45" fill="#00f"/>
<path d="M48.55,6.00 L49.72,7.99 L50.88,10.70 L52.05,14.01 L53.22,17.75 L54.39,21.91 L55.55,27.21 L56.72,33.34 L57.89,39.76 L59.05,46.20 L60.22,52.93 L61.39,59.46 L62.55,66.04 L63.72,72.63 L64.89,79.20 L66.06,85.72 L67.22,92.14 L68.39,98.43 L69.56,104.56 L70.72,110.48 L71.89,116.17 L73.06,121.63 L74.23,127.02 L75.39,132.32 L76.56,137.51 L77.73,142.57 L78.89,147.47 L80.06,152.20 L81.23,156.73 L82.39,161.03 L83.56,165.09 L84.73,168.89 L85.90,172.56 L87.06,176.10 L88.23,179.51 L89.40,182.79 L90.56,185.93 L91.73,188.94 L92.90,191.80 L94.07,194.51 L95.23,197.07 L96.40,199.47 L97.57,201.78 L98.73,204.01 L99.90,206.16 L101.07,208.22 L102.23,210.18 L103.40,212.05 L104.57,213.81 L105.74,215.45 L106.90,216.99 L108.07,218.40 L109.24,219.73 L110.40,221.00 L111.57,222.22 L112.74,223.37 L113.91,224.47 L115.07,225.50 L116.24,226.47 L117.41,227.38 L118.57,228.21 L119.74,228.98 L120.91,229.69 L122.07,230.36 L123.24,231.00 L124.41,231.60 L125.58,232.17 L126.74,232.70 L127.91,233.21 L129.08,233.69 L130.24,234.13 L131.41,234.55 L132.58,234.94 L133.75,235.31 L134.91,235.67 L136.08,236.01 L137.25,236.33 L138.41,236.63 L139.58,236.92 L140.75,237.19 L141.91,237.46 L143.08,237.71 L144.25,237.95 L145.42,238.18 L146.58,238.40 L147.75,238.62 L148.92,238.82 L150.08,239.02 L151.25,239.21 L152.42,239.39 L153.59,239.56 L154.75,239.71 L155.92,239.86 L157.09,240.00 L158.25,240.13 L159.42,240.26 L160.59,240.38 L161.75,240.50 L162.92,240.61 L164.09,240.71 L165.26,240.81 L166.42,240.90 L167.59,240.99 L168.76,241.08 L169.92,241.16 L171.09,241.24 L172.26,241.32 L173.43,241.40 L174.59,241.47 L175.76,241.53 L176.93,241.59 L178.09,241.64 L179.26,241.68 L180.43,241.71 L181.59,241.74 L182.76,241.78 L183.93,241.81 L185.10,241.83 L186.26,241.86 L187.43,241.88 L188.60,241.89 L189.76,241.90 L190.93,241.91 L192.10,241.91 L193.27,241.91 L194.43,241.91 L195.60,241.91 L196.77,241.91 L197.93,241.91 L199.10,241.91 L200.27,241.91 L201.43,241.91 L202.60,241.91 L203.77,241.91 L204.94,241.91 L206.10,241.91 L207.27,241.91 L208.44,241.91 L209.60,241.91 L210.77,241.91 L211.94,241.91 L213.11,241.91 L214.27,241.91 L215.44,241.90 L216.61,241.89 L217.77,241.87 L218.94,241.84 L220.11,241.81 L221.27,241.77 L222.44,241.74 L223.61,241.71 L224.78,241.69 L225.94,241.67 L227.11,241.67 L228.28,241.67 L229.44,241.67 L230.61,241.67 L231.78,241.67 L232.94,241.67 L234.11,241.67 L235.28,241.67 L236.45,241.67 L237.61,241.67 L238.78,241.67 L239.95,241.67 L241.11,241.65 L242.28,241.63 L243.45,241.61 L244.62,241.58 L245.78,241.55 L246.95,241.52 L248.12,241.49 L249.28,241.46 L250.45,241.44 L251.62,241.41 L252.78,241.39 L253.95,241.37 L255.12,241.34 L256.29,241.32 L257.45,241.30 L258.62,241.28 L259.79,241.25 L260.95,241.23 L262.12,241.21 L263.29,241.18 L264.46,241.15 L265.62,241.12 L266.79,241.09 L267.96,241.06 L269.12,241.04 L270.29,241.01 L271.46,240.99 L272.62,240.98 L273.79,240.97 L274.96,240.97 L276.13,240.97 L277.29,240.97 L278.46,240.97 L279.63,240.97 L280.79,240.97 L281.96,240.97 L283.13,240.97 L284.30,240.97 L285.46,240.97 L286.63,240.97 L287.80,240.95 L288.96,240.93 L290.13,240.90 L291.30,240.87 L292.46,240.84 L293.63,240.80 L294.80,240.77 L295.97,240.75 L297.13,240.74 L298.30,240.73 L299.47,240.73 L300.63,240.73 L301.80,240.73 L302.97,240.73 L304.14,240.73 L305.30,240.73 L306.47,240.73 L307.64,240.73 L308.80,240.73 L309.97,240.73 L311.14,240.75 L312.30,240.79 L313.47,240.84 L314.64,240.91 L315.81,240.97 L316.97,241.04 L318.14,241.10 L319.31,241.16 L320.47,241.19 L321.64,241.20 L322.81,241.19 L323.98,241.17 L325.14,241.13 L326.31,241.08 L327.48,241.03 L328.64,240.96 L329.81,240.90 L330.98,240.84 L332.14,240.79 L333.31,240.74 L334.48,240.70 L335.65,240.66 L336.81,240.62 L337.98,240.58 L339.15,240.54 L340.31,240.50 L341.48,240.47 L342.65,240.44 L343.82,240.41 L344.98,240.39 L346.15,240.37 L347.32,240.35 L348.48,240.34 L349.65,240.32 L350.82,240.31 L351.98,240.30 L353.15,240.28 L354.32,240.28 L355.49,240.27 L356.65,240.27 L357.82,240.27 L358.99,240.27 L360.15,240.27 L361.32,240.27 L362.49,240.27 L363.66,240.27 L364.82,240.27 L365.99,240.27 L367.16,240.27 L368.32,240.27 L369.49,240.27 L370.66,240.26 L371.82,240.25 L372.99,240.24 L374.16,240.22 L375.33,240.20 L376.49,240.19 L377.66,240.17 L378.83,240.16 L379.99,240.15 L381.16,240.15 L382.33,240.15 L383.50,240.15 L384.66,240.15 L385.83,240.15 L387.00,240.15 L388.16,240.15 L389.33,240.15 L390.50,240.15 L391.66,240.15 L392.83,240.15 L394.00,240.15 L395.17,240.15 L396.33,240.15 L397.50,240.15" fill="none" stroke="#f00" stroke-width="1.1"/>
<path d="M48.55,0.90 L52.90,8.70 L44.20,8.70Z" fill="#f00"/>
<path d="M60.42,48.97 L64.77,56.77 L56.07,56.77Z" fill="#f00"/>
<path d="M72.30,112.99 L76.65,120.79 L67.95,120.79Z" fill="#f00"/>
<path d="M84.17,162.00 L88.52,169.80 L79.82,169.80Z" fill="#f00"/>
<path d="M96.05,193.66 L100.40,201.46 L91.70,201.46Z" fill="#f00"/>
<path d="M107.92,213.12 L112.27,220.92 L103.57,220.92Z" fill="#f00"/>
<path d="M119.79,223.91 L124.14,231.71 L115.44,231.71Z" fill="#f00"/>
<path d="M131.67,229.54 L136.02,237.34 L127.32,237.34Z" fill="#f00"/>
<path d="M143.54,232.70 L147.89,240.50 L139.19,240.50Z" fill="#f00"/>
<path d="M155.42,234.70 L159.77,242.50 L151.07,242.50Z" fill="#f00"/>
<path d="M167.29,235.87 L171.64,243.67 L162.94,243.67Z" fill="#f00"/>
<path d="M179.16,236.57 L183.51,244.37 L174.81,244.37Z" fill="#f00"/>
<path d="M191.04,236.81 L195.39,244.61 L186.69,244.61Z" fill="#f00"/>
<path d="M202.91,236.81 L207.26,244.61 L198.56,244.61Z" fill="#f00"/>
<path d="M214.79,236.81 L219.14,244.61 L210.44,244.61Z" fill="#f00"/>
<path d="M226.66,236.57 L231.01,244.37 L222.31,244.37Z" fill="#f00"/>
<path d="M238.54,236.57 L242.89,244.37 L234.19,244.37Z" fill="#f00"/>
<path d="M250.41,236.34 L254.76,244.14 L246.06,244.14Z" fill="#f00"/>
<path d="M262.28,236.10 L266.63,243.90 L257.93,243.90Z" fill="#f00"/>
<path d="M274.16,235.87 L278.51,243.67 L269.81,243.67Z" fill="#f00"/>
<path d="M286.03,235.87 L290.38,243.67 L281.68,243.67Z" fill="#f00"/>
<path d="M297.91,235.63 L302.26,243.43 L293.56,243.43Z" fill="#f00"/>
<path d="M309.78,235.63 L314.13,243.43 L305.43,243.43Z" fill="#f00"/>
<path d="M321.65,236.10 L326.00,243.90 L317.30,243.90Z" fill="#f00"/>
<path d="M333.53,235.63 L337.88,243.43 L329.18,243.43Z" fill="#f00"/>
<path d="M345.40,235.28 L349.75,243.08 L341.05,243.08Z" fill="#f00"/>
<path d="M357.28,235.17 L361.63,242.97 L352.93,242.97Z" fill="#f00"/>
<path d="M369.15,235.17 L373.50,242.97 L364.80,242.97Z" fill="#f00"/>
<path d="M381.02,235.05 L385.37,242.85 L376.67,242.85Z" fill="#f00"/>
<path d="M392.90,235.05 L397.25,242.85 L388.55,242.85Z" fill="#f00"/>
</g>
<g stroke="#000" stroke-width="0.95" fill="none">
<path d="M118.34,249.65v-4.1 M118.34,6.4v4.2" />
<path d="M188.13,249.65v-4.1 M188.13,6.4v4.2" />
<path d="M257.92,249.65v-4.1 M257.92,6.4v4.2" />
<path d="M327.71,249.65v-4.1 M327.71,6.4v4.2" />
<path d="M48.55,240.50h4.2 M397.5,240.50h-4" />
<path d="M48.55,193.60h4.2 M397.5,193.60h-4" />
<path d="M48.55,146.70h4.2 M397.5,146.70h-4" />
<path d="M48.55,99.80h4.2 M397.5,99.80h-4" />
<path d="M48.55,52.90h4.2 M397.5,52.90h-4" />
</g>
<rect x="48.55" y="6.4" width="348.95" height="243.25" fill="none" stroke="#000" stroke-width="1.05"/>
<g font-size="15.4" fill="#3a3a3a">
<text x="50.6" y="268.9" text-anchor="middle" textLength="6.95" lengthAdjust="spacingAndGlyphs">0</text>
<text x="120.4" y="268.9" text-anchor="middle" textLength="6.95" lengthAdjust="spacingAndGlyphs">5</text>
<text x="190.2" y="268.9" text-anchor="middle" textLength="13.90" lengthAdjust="spacingAndGlyphs">10</text>
<text x="260.0" y="268.9" text-anchor="middle" textLength="13.90" lengthAdjust="spacingAndGlyphs">15</text>
<text x="329.8" y="268.9" text-anchor="middle" textLength="13.90" lengthAdjust="spacingAndGlyphs">20</text>
<text x="399.6" y="268.9" text-anchor="middle" textLength="13.90" lengthAdjust="spacingAndGlyphs">25</text>
<text x="43.2" y="244.5" text-anchor="end" textLength="18.6" lengthAdjust="spacingAndGlyphs">0.0</text>
<text x="43.2" y="197.6" text-anchor="end" textLength="18.6" lengthAdjust="spacingAndGlyphs">0.2</text>
<text x="43.2" y="150.7" text-anchor="end" textLength="18.6" lengthAdjust="spacingAndGlyphs">0.4</text>
<text x="43.2" y="103.8" text-anchor="end" textLength="18.6" lengthAdjust="spacingAndGlyphs">0.6</text>
<text x="43.2" y="56.9" text-anchor="end" textLength="18.6" lengthAdjust="spacingAndGlyphs">0.8</text>
<text x="43.2" y="10.0" text-anchor="end" textLength="18.6" lengthAdjust="spacingAndGlyphs">1.0</text>
</g>
<!-- LEGEND -->
<g id="legend">
<path d="M269.2,132H318.6" stroke="#000" stroke-width="1.3"/>
<rect x="290.5" y="128.8" width="6.4" height="6.4" fill="#fff" fill-opacity="0.7" stroke="#000" stroke-width="0.9"/>
<path d="M269.2,164.5H318.6" stroke="#00f" stroke-width="1.1"/>
<circle cx="293.75" cy="164.5" r="3.45" fill="#00f"/>
<path d="M269.2,196.9H318.6" stroke="#f00" stroke-width="1.1"/>
<path d="M293.7,191.5 L298.05,199.3 L289.35,199.3Z" fill="#f00"/>
<g fill="#3c3c3c">
<g transform="translate(240.5,135.8)"><g transform="translate(0,0)"><text x="0" y="0" font-size="15.5" font-style="italic" textLength="10.4" lengthAdjust="spacingAndGlyphs">F</text></g>
<text x="8.7" y="5" font-size="10.2" font-weight="bold" textLength="9.4" lengthAdjust="spacingAndGlyphs">R</text>
<text x="12.3" y="2.3" font-size="9" font-weight="bold">ˆ</text></g>
<g transform="translate(238.4,167.8)"><g transform="translate(0,0)"><text x="0" y="0" font-size="15.5" font-style="italic" textLength="10.4" lengthAdjust="spacingAndGlyphs">F</text></g>
<text x="9.5" y="3" font-size="10.5" font-weight="bold" textLength="5.2" lengthAdjust="spacingAndGlyphs">z</text>
<text x="10.6" y="2.2" font-size="9" font-weight="bold">ˆ</text>
<text x="15" y="4.1" font-size="8">1</text></g>
<g transform="translate(237.2,199.8)"><g transform="translate(0,0)"><text x="0" y="0" font-size="15.5" font-style="italic" textLength="10.4" lengthAdjust="spacingAndGlyphs">F</text></g>
<text x="8.7" y="4" font-size="10.5" font-weight="bold" textLength="5.4" lengthAdjust="spacingAndGlyphs">z</text>
<text x="9.9" y="3.1" font-size="9" font-weight="bold">ˆ</text>
<text x="15.2" y="0.2" font-size="7.6" textLength="5.9" lengthAdjust="spacingAndGlyphs">P</text>
<text x="14.8" y="7.6" font-size="8">1</text></g>
</g>
</g>
<!-- TITLE -->
<g fill="#222" font-weight="bold" font-size="16">
<text x="187" y="30.4" textLength="23.6" lengthAdjust="spacingAndGlyphs">Wi</text>
<path d="M216.2,22.9H227.3M216.2,26.6H227.3" stroke="#444" stroke-width="0.9" fill="none"/>
<text x="232.9" y="30.4" textLength="8.8" lengthAdjust="spacingAndGlyphs">1</text>
<path d="M243.1,33.3L248.8,17.2" stroke="#222" stroke-width="1.1" fill="none"/>
<text x="250.3" y="30.4" textLength="8.8" lengthAdjust="spacingAndGlyphs">2</text>
</g>
<text x="362.9" y="29.8" font-size="16.5" fill="#3a3a3a" letter-spacing="0.5">(a)</text>
<!-- XLABEL -->
<g fill="#3c3c3c">
<text x="209.5" y="283.2" font-size="15.5" font-style="italic" textLength="4.9" lengthAdjust="spacingAndGlyphs">t</text>
<path d="M216.3,286.7L221.7,272" stroke="#333" stroke-width="0.75" fill="none"/>
<text x="222.4" y="283.2" font-size="15.5" font-style="italic" textLength="7.6" lengthAdjust="spacingAndGlyphs">τ</text>
<text x="229.6" y="285.4" font-size="11" font-style="italic">η</text>
</g>
<!-- YLABEL -->
<g transform="translate(12,227.8) rotate(-90)" fill="#3c3c3c">
<g transform="translate(0,0)"><g transform="translate(0,0)"><text x="0" y="0" font-size="15.5" font-style="italic" textLength="10.4" lengthAdjust="spacingAndGlyphs">F</text></g>
<text x="8.7" y="5" font-size="10.2" font-weight="bold" textLength="9.4" lengthAdjust="spacingAndGlyphs">R</text>
<text x="12.3" y="2.3" font-size="9" font-weight="bold">ˆ</text></g>
<g transform="translate(19.1,0)">
<text x="0" y="0" font-size="15.5">(</text>
<text x="4.9" y="0" font-size="15.5" font-style="italic" textLength="4.9" lengthAdjust="spacingAndGlyphs">t</text>
<path d="M12.2,3.6L17.6,-11.1" stroke="#333" stroke-width="0.75" fill="none"/>
<text x="18" y="0" font-size="15.5" font-style="italic" textLength="7.6" lengthAdjust="spacingAndGlyphs">τ</text>
<text x="25.1" y="2.2" font-size="11" font-style="italic">η</text>
<text x="32.2" y="0" font-size="15.5">)</text>
</g>
<text x="57" y="0" font-size="15.5">,</text>
<g transform="translate(69,0)"><g transform="translate(0,0)"><text x="0" y="0" font-size="15.5" font-style="italic" textLength="10.4" lengthAdjust="spacingAndGlyphs">F</text></g>
<text x="9.5" y="3" font-size="10.5" font-weight="bold" textLength="5.2" lengthAdjust="spacingAndGlyphs">z</text>
<text x="10.6" y="2.2" font-size="9" font-weight="bold">ˆ</text>
<text x="15" y="4.1" font-size="8">1</text></g>
<g transform="translate(90.9,0)">
<text x="0" y="0" font-size="15.5">(</text>
<text x="4.9" y="0" font-size="15.5" font-style="italic" textLength="4.9" lengthAdjust="spacingAndGlyphs">t</text>
<path d="M12.2,3.6L17.6,-11.1" stroke="#333" stroke-width="0.75" fill="none"/>
<text x="18" y="0" font-size="15.5" font-style="italic" textLength="7.6" lengthAdjust="spacingAndGlyphs">τ</text>
<text x="25.1" y="2.2" font-size="11" font-style="italic">η</text>
<text x="32.2" y="0" font-size="15.5">)</text>
</g>
<text x="128" y="0" font-size="15.5">,</text>
<g transform="translate(141.2,0)"><g transform="translate(0,0)"><text x="0" y="0" font-size="15.5" font-style="italic" textLength="10.4" lengthAdjust="spacingAndGlyphs">F</text></g>
<text x="8.7" y="4" font-size="10.5" font-weight="bold" textLength="5.4" lengthAdjust="spacingAndGlyphs">z</text>
<text x="9.9" y="3.1" font-size="9" font-weight="bold">ˆ</text>
<text x="15.2" y="0.2" font-size="7.6" textLength="5.9" lengthAdjust="spacingAndGlyphs">P</text>
<text x="14.8" y="7.6" font-size="8">1</text></g>
<g transform="translate(163.7,0)">
<text x="0" y="0" font-size="15.5">(</text>
<text x="4.9" y="0" font-size="15.5" font-style="italic" textLength="4.9" lengthAdjust="spacingAndGlyphs">t</text>
<path d="M12.2,3.6L17.6,-11.1" stroke="#333" stroke-width="0.75" fill="none"/>
<text x="18" y="0" font-size="15.5" font-style="italic" textLength="7.6" lengthAdjust="spacingAndGlyphs">τ</text>
<text x="25.1" y="2.2" font-size="11" font-style="italic">η</text>
<text x="32.2" y="0" font-size="15.5">)</text>
</g>
</g>
</svg>
</body></html>
